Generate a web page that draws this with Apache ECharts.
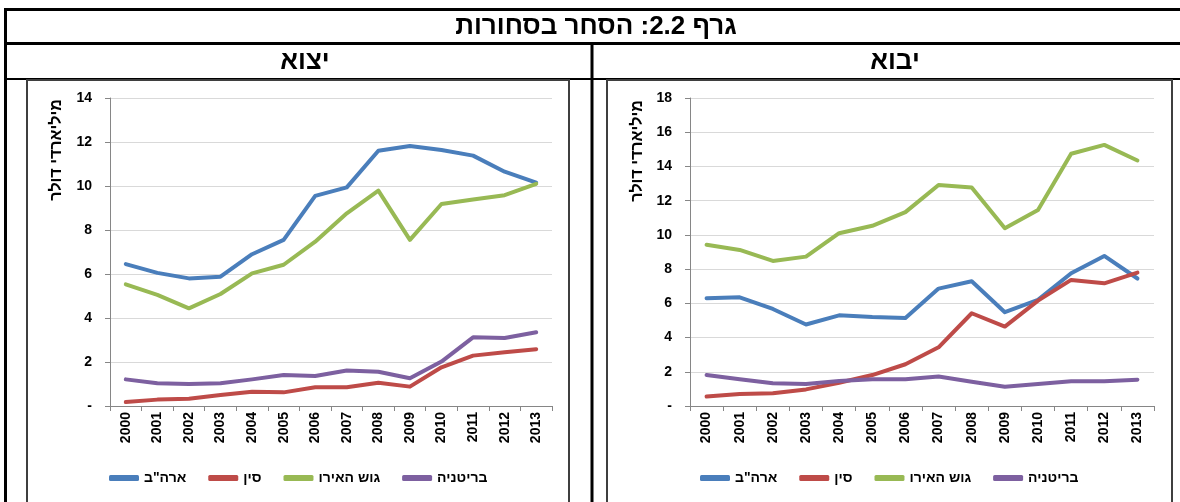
<!DOCTYPE html>
<html>
<head>
<meta charset="utf-8">
<script src="https://cdn.jsdelivr.net/npm/echarts@6/dist/echarts.min.js"></script>
<style>
  html, body { margin: 0; padding: 0; background: #fff; }
  #chart_container { width: 1180px; height: 502px; }
</style>
</head>
<body>
<div id="chart_container"></div>
<script>
// שנים
const years = ['2000', '2001', '2002', '2003', '2004', '2005', '2006',
  '2007', '2008', '2009', '2010', '2011', '2012', '2013'];

const seriesNames = ['ארה"ב', 'סין', 'גוש האירו', 'בריטניה'];
const seriesColors = ['#4A7EBB', '#BE4B48', '#98B954', '#7D60A0'];

// יצוא (מיליארדי דולר)
const usaExport = [6.45, 6.05, 5.8, 5.88, 6.9, 7.55, 9.55, 9.94, 11.6, 11.82, 11.64, 11.38, 10.65, 10.15];
const chinaExport = [0.18, 0.29, 0.33, 0.5, 0.65, 0.62, 0.85, 0.85, 1.06, 0.88, 1.76, 2.29, 2.44, 2.58];
const euroExport = [5.53, 5.05, 4.44, 5.09, 6.03, 6.42, 7.47, 8.76, 9.79, 7.55, 9.18, 9.39, 9.58, 10.1];
const ukExport = [1.21, 1.03, 1.0, 1.03, 1.21, 1.41, 1.36, 1.61, 1.56, 1.26, 2.02, 3.12, 3.09, 3.35];

// יבוא (מיליארדי דולר)
const usaImport = [6.3, 6.35, 5.67, 4.76, 5.3, 5.2, 5.15, 6.86, 7.29, 5.48, 6.2, 7.76, 8.77, 7.45];
const chinaImport = [0.55, 0.7, 0.74, 0.97, 1.36, 1.81, 2.44, 3.43, 5.42, 4.64, 6.16, 7.37, 7.17, 7.8];
const euroImport = [9.42, 9.12, 8.48, 8.73, 10.1, 10.53, 11.33, 12.92, 12.77, 10.39, 11.46, 14.74, 15.26, 14.35];
const ukImport = [1.81, 1.56, 1.33, 1.29, 1.46, 1.56, 1.56, 1.72, 1.42, 1.13, 1.29, 1.44, 1.44, 1.54];

const exportMax = 14;
const importMax = 18;
const yStep = 2;

const fontFamily = "'Liberation Sans', Arial, sans-serif";

function makeAxes(gridIndex, max) {
  const xAxis = {
    type: 'category',
    gridIndex: gridIndex,
    data: years,
    boundaryGap: true,
    axisLine: { lineStyle: { color: '#868686', width: 1 } },
    axisTick: { show: true, length: 5, lineStyle: { color: '#868686' } },
    axisLabel: {
      rotate: 90, margin: 6, interval: 0,
      color: '#000', fontWeight: 'bold', fontSize: 14, fontFamily: fontFamily
    },
    splitLine: { show: false }
  };
  const yAxis = {
    type: 'value',
    gridIndex: gridIndex,
    min: 0, max: max, interval: yStep,
    axisLine: { show: true, lineStyle: { color: '#868686', width: 1 } },
    axisTick: { show: true, length: 5, lineStyle: { color: '#868686' } },
    axisLabel: {
      margin: 18, color: '#000', fontWeight: 'bold', fontSize: 14, fontFamily: fontFamily,
      formatter: function (v) { return v === 0 ? '-' : String(v); }
    },
    splitLine: { lineStyle: { color: '#D9D9D9', width: 1 } }
  };
  return [xAxis, yAxis];
}

function makeSeries(axisIndex, dataSets) {
  return dataSets.map(function (d, i) {
    return {
      name: seriesNames[i],
      type: 'line',
      xAxisIndex: axisIndex,
      yAxisIndex: axisIndex,
      data: d,
      symbol: 'none',
      color: seriesColors[i],
      lineStyle: { width: 4, color: seriesColors[i], cap: 'round', join: 'round' },
      emphasis: { disabled: true },
      z: 2
    };
  });
}

function makeLegend(left) {
  return {
    left: left, top: 471, padding: 0,
    orient: 'horizontal',
    icon: 'roundRect',
    itemWidth: 30, itemHeight: 6, itemGap: 22,
    selectedMode: false,
    data: seriesNames,
    textStyle: { color: '#000', fontWeight: 'bold', fontSize: 14, fontFamily: fontFamily }
  };
}

function hLine(y, x1, x2, w, c) {
  return { type: 'line', shape: { x1: x1, y1: y, x2: x2, y2: y }, style: { stroke: c, lineWidth: w }, silent: true };
}
function vLine(x, y1, y2, w, c) {
  return { type: 'line', shape: { x1: x, y1: y1, x2: x, y2: y2 }, style: { stroke: c, lineWidth: w }, silent: true };
}
function label(text, x, y, size, rot) {
  return {
    type: 'text', x: x, y: y, rotation: rot || 0, silent: true,
    style: {
      text: text, x: 0, y: 0, fill: '#000',
      font: 'bold ' + size + 'px ' + fontFamily,
      align: 'center', verticalAlign: 'middle',
      textAlign: 'center', textVerticalAlign: 'middle'
    }
  };
}

function createOption() {
  const expAxes = makeAxes(0, exportMax);
  const impAxes = makeAxes(1, importMax);

  const option = {
    animation: false,
    backgroundColor: '#fff',
    grid: [
      { left: 110, top: 98, width: 442, height: 308 },
      { left: 690, top: 98, width: 464, height: 308 }
    ],
    xAxis: [expAxes[0], impAxes[0]],
    yAxis: [expAxes[1], impAxes[1]],
    legend: [makeLegend(109), makeLegend(700)],
    series: makeSeries(0, [usaExport, chinaExport, euroExport, ukExport])
      .concat(makeSeries(1, [usaImport, chinaImport, euroImport, ukImport])),
    graphic: [
      // מסגרת הטבלה
      hLine(9.5, 4, 1180, 3, '#000'),
      hLine(43.5, 4, 1180, 3, '#000'),
      hLine(79, 4, 1180, 2, '#000'),
      vLine(5.5, 8, 502, 3, '#000'),
      vLine(592, 43, 502, 3, '#000'),
      // מסגרות הגרפים
      { type: 'rect', shape: { x: 27, y: 80, width: 542, height: 440 }, style: { fill: null, stroke: '#3F3F3F', lineWidth: 2 }, silent: true },
      { type: 'rect', shape: { x: 607, y: 80, width: 565, height: 440 }, style: { fill: null, stroke: '#3F3F3F', lineWidth: 2 }, silent: true },
      // כותרות
      label('גרף 2.2: הסחר בסחורות', 596, 27, 26),
      label('יצוא', 305, 62, 26),
      label('יבוא', 895, 62, 26),
      label('מיליארדי דולר', 57, 150, 16, Math.PI / 2),
      label('מיליארדי דולר', 638, 151, 16, Math.PI / 2)
    ]
  };
  return option;
}

const myChart = echarts.init(document.getElementById('chart_container'), null, { renderer: 'canvas' });
myChart.setOption(createOption());
</script>
</body>
</html>
